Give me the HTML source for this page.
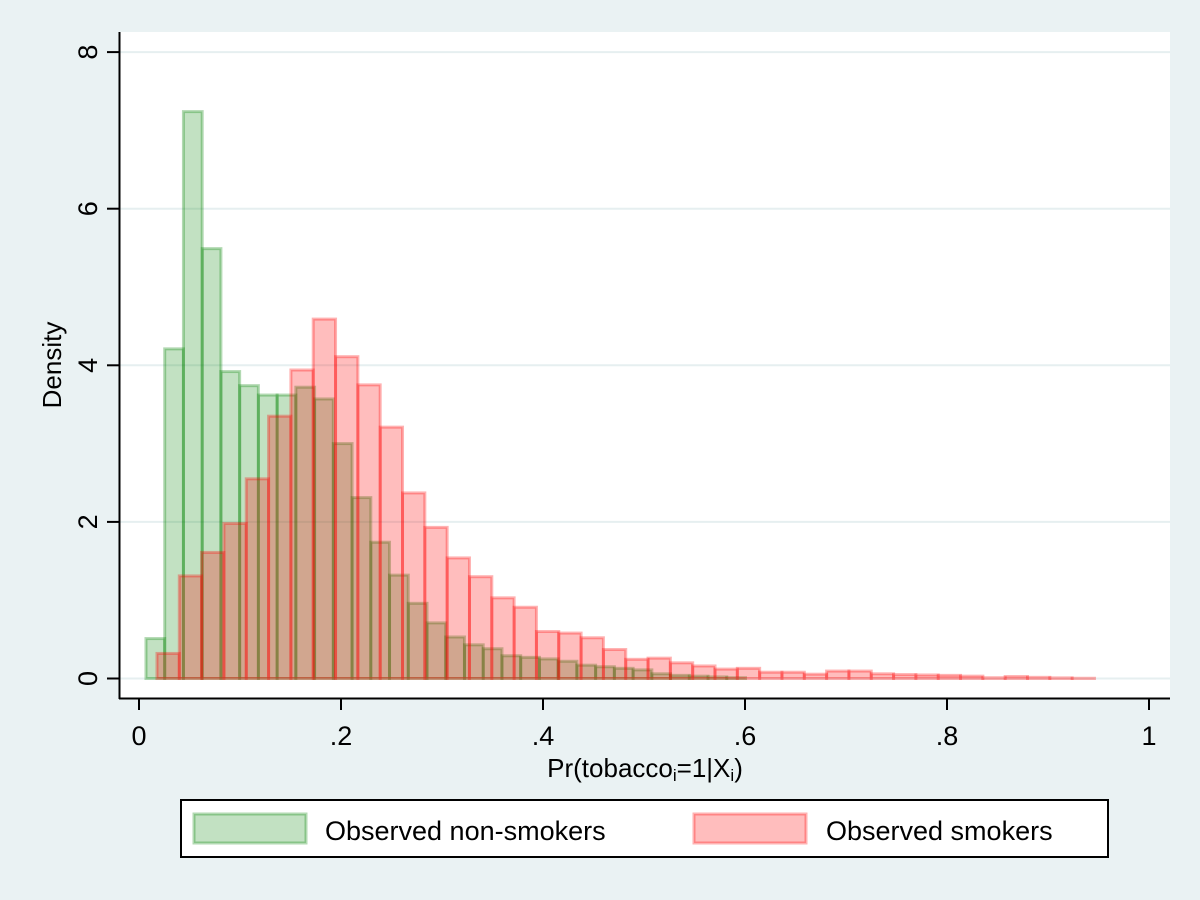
<!DOCTYPE html>
<html><head><meta charset="utf-8"><style>
html,body{margin:0;padding:0;background:#eaf2f3;}
svg{display:block;font-family:"Liberation Sans",Arial,sans-serif;}
</style></head><body>
<svg id="chart" width="1200" height="900" viewBox="0 0 1200 900">
<rect x="0" y="0" width="1200" height="900" fill="#eaf2f3"/>
<rect x="120" y="32" width="1050" height="666" fill="#ffffff"/>
<g id="grid"></g>
<g id="bars"></g>
<g id="axes"></g>
<text x="0" y="0" transform="translate(61,365) rotate(-90)" text-anchor="middle" font-size="26" fill="#000">Density</text>
<text x="645" y="777" text-anchor="middle" font-size="26" fill="#000">Pr(tobacco<tspan font-size="17" dy="4">i</tspan><tspan dy="-4">=1|X</tspan><tspan font-size="17" dy="4">i</tspan><tspan dy="-4">)</tspan></text>
<g>
<rect x="181" y="800" width="927" height="57" fill="#fff" stroke="#000" stroke-width="2"/>
<rect x="194" y="814" width="112" height="29" fill="rgba(0,128,0,0.24)" stroke="rgba(0,128,0,0.3)" stroke-width="3"/>
<text x="325" y="840" font-size="27">Observed non-smokers</text>
<rect x="694" y="814" width="112" height="29" fill="rgba(255,0,0,0.26)" stroke="rgba(255,0,0,0.3)" stroke-width="3"/>
<text x="826" y="840" font-size="27">Observed smokers</text>
</g>
</svg>
<script>
const nonSmokersStart = 0.0069;
const nonSmokersWidth = 0.01855;
const nonSmokersDensity = [0.51,4.21,7.24,5.49,3.92,3.74,3.62,3.62,3.72,3.57,3.0,2.31,1.74,1.32,0.96,0.71,0.53,0.43,0.38,0.29,0.27,0.25,0.22,0.17,0.15,0.13,0.11,0.06,0.04,0.03,0.02,0.01];
const smokersStart = 0.0178;
const smokersWidth = 0.0221;
const smokersDensity = [0.32,1.31,1.61,1.98,2.55,3.35,3.94,4.59,4.11,3.75,3.21,2.37,1.93,1.54,1.30,1.03,0.91,0.60,0.58,0.52,0.37,0.245,0.26,0.20,0.16,0.12,0.13,0.08,0.08,0.055,0.095,0.095,0.06,0.05,0.045,0.04,0.03,0.01,0.025,0.015,0.008,0.003];
const xTicks = [0,0.2,0.4,0.6,0.8,1];
const xTickLabels = ["0",".2",".4",".6",".8","1"];
const yTicks = [0,2,4,6,8];
const yTickLabels = ["0","2","4","6","8"];

const NS = "http://www.w3.org/2000/svg";
const xs = v => 139 + 1010 * v;
const ys = v => 678.5 - 78.3 * v;
function mk(tag, attrs, parent) {
  const e = document.createElementNS(NS, tag);
  for (const k in attrs) e.setAttribute(k, attrs[k]);
  parent.appendChild(e);
  return e;
}
const grid = document.getElementById('grid');
const bars = document.getElementById('bars');
const axes = document.getElementById('axes');

yTicks.forEach((t, i) => {
  const g = mk('line', {x1:120, x2:1170, y1:ys(t), y2:ys(t), stroke:'#e6eff0', 'stroke-width':2}, grid);
  
  
});

nonSmokersDensity.forEach((d, i) => {
  const x0 = xs(nonSmokersStart + i * nonSmokersWidth), x1 = xs(nonSmokersStart + (i + 1) * nonSmokersWidth);
  const r = mk('rect', {x:x0, y:ys(d), width:x1 - x0, height:ys(0) - ys(d), fill:'rgba(0,128,0,0.24)', stroke:'rgba(0,128,0,0.3)', 'stroke-width':3}, bars);
  
  
});
smokersDensity.forEach((d, i) => {
  const x0 = xs(smokersStart + i * smokersWidth), x1 = xs(smokersStart + (i + 1) * smokersWidth);
  const r = mk('rect', {x:x0, y:ys(d), width:x1 - x0, height:ys(0) - ys(d), fill:'rgba(255,0,0,0.26)', stroke:'rgba(255,0,0,0.3)', 'stroke-width':3}, bars);
  
  
});

const ya = mk('line', {x1:119.5, x2:119.5, y1:32, y2:699, stroke:'#000', 'stroke-width':2}, axes);


const xa = mk('line', {x1:119, x2:1170, y1:698.5, y2:698.5, stroke:'#000', 'stroke-width':2}, axes);



yTicks.forEach((t, i) => {
  const l = mk('line', {x1:107, x2:119, y1:ys(t), y2:ys(t), stroke:'#000', 'stroke-width':2}, axes);
  
  
  const tx = mk('text', {x:0, y:0, transform:`translate(97,${ys(t)}) rotate(-90)`, 'text-anchor':'middle', 'font-size':27}, axes);
  tx.textContent = yTickLabels[i];
  
  
});
xTicks.forEach((t, i) => {
  const l = mk('line', {x1:xs(t), x2:xs(t), y1:698, y2:710, stroke:'#000', 'stroke-width':2}, axes);
  
  
  const tx = mk('text', {x:xs(t), y:745, 'text-anchor':'middle', 'font-size':27}, axes);
  tx.textContent = xTickLabels[i];
  
  
});
</script>
</body></html>
